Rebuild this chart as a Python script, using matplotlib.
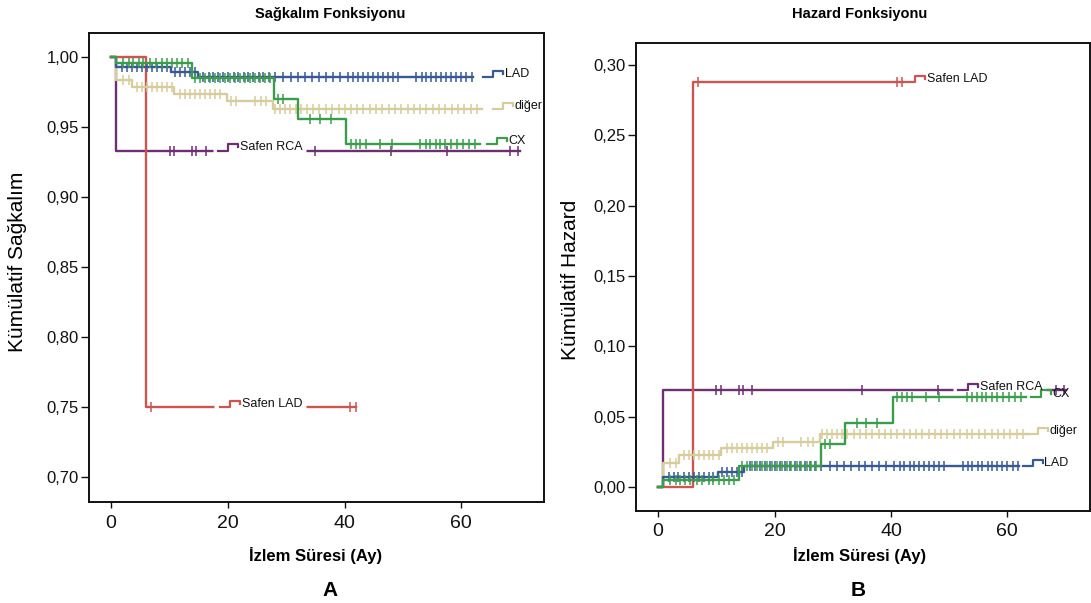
import matplotlib
matplotlib.use("Agg")
import matplotlib.pyplot as plt
import numpy as np
from matplotlib.ticker import FuncFormatter

plt.rcParams['font.family'] = ['Liberation Sans', 'DejaVu Sans']

# ---------------- data ----------------
# Safen LAD
slad_t = [0.0, 6.0]
slad_surv = [1.00, 0.75]
slad_haz = [0.000, 0.288]
slad_end = 42.0
slad_cens = [6.8, 41.0, 41.9]

# Safen RCA
srca_t = [0.0, 0.9]
srca_surv = [1.00, 0.933]
srca_haz = [0.000, 0.069]
srca_end = 70.0
srca_cens = [10.0, 10.8, 13.9, 14.6, 16.2, 35.0, 48.0, 57.5, 68.4, 69.8]

# LAD
lad_t = [0.0, 0.9, 10.3, 14.8]
lad_surv = [1.00, 0.9928, 0.9893, 0.9857]
lad_haz = [0.000, 0.0073, 0.0108, 0.0146]
lad_end = 62.0
lad_cens = [1.8, 2.7, 3.5, 4.4, 5.3, 6.1, 7.0, 7.8, 8.7, 9.5, 11.0, 11.8, 12.7,
            13.5, 14.4, 15.8, 16.7, 17.5, 18.4, 19.2, 20.1, 21.0, 21.8, 22.7,
            23.5, 24.4, 25.3, 26.1, 27.0, 28.0, 29.5, 30.8, 32.0, 33.2, 34.5,
            35.6, 36.8, 38.0, 39.2, 40.6, 41.5, 42.3, 43.2, 44.0, 44.9, 45.7,
            46.6, 47.4, 48.3, 49.2, 52.3, 53.2, 54.0, 54.9, 55.7, 56.6, 57.4,
            58.3, 59.1, 60.0, 60.9, 61.8]

# CX
cx_t = [0.0, 0.9, 13.9, 27.9, 32.1, 40.3]
cx_surv = [1.00, 0.9955, 0.9848, 0.9697, 0.9553, 0.9376]
cx_haz = [0.000, 0.0050, 0.0152, 0.0308, 0.0458, 0.0642]
cx_end = 63.2
cx_cens = [2.1, 3.0, 3.8, 4.7, 5.5, 6.7, 7.6, 8.7, 9.5, 10.4, 11.3, 12.1, 13.1,
           14.4, 15.3, 16.1, 17.0, 17.8, 18.7, 19.5, 20.4, 21.2, 22.1, 22.9,
           23.8, 24.6, 25.5, 26.3, 27.2, 28.6, 29.5, 34.1, 35.8, 37.6, 41.1,
           41.9, 42.7, 43.6, 46.1, 48.2, 53.0, 53.9, 54.7, 55.6, 56.4, 57.3,
           58.3, 59.3, 60.3, 61.3, 62.4]

# diğer
dig_t = [0.0, 0.9, 3.6, 10.8, 19.8, 27.8]
dig_surv = [1.00, 0.9836, 0.9782, 0.9735, 0.9683, 0.9626]
dig_haz = [0.000, 0.0168, 0.0228, 0.0275, 0.0322, 0.0375]
dig_end = 63.5
dig_cens = [2.1, 3.0, 4.4, 5.3, 6.1, 7.0, 7.8, 8.7, 9.5, 10.4, 11.8, 12.7, 13.5,
            14.4, 15.3, 16.1, 17.0, 17.8, 18.7, 20.6, 21.4, 24.6, 25.7, 26.6,
            28.1, 29.0, 29.8, 30.7, 31.6, 32.5, 33.6, 34.6, 35.7, 36.8, 37.9,
            39.0, 40.0, 41.1, 42.2, 43.2, 44.3, 45.4, 46.5, 47.6, 48.6, 49.7,
            50.8, 51.9, 53.0, 54.0, 55.1, 56.2, 57.3, 58.4, 59.5, 60.5, 61.6,
            62.7]

x_ticks = [0, 20, 40, 60]
surv_ticks = [0.70, 0.75, 0.80, 0.85, 0.90, 0.95, 1.00]
haz_ticks = [0.00, 0.05, 0.10, 0.15, 0.20, 0.25, 0.30]

C_SLAD = '#cc5552'
C_SRCA = '#6e2f72'
C_LAD = '#385a94'
C_CX = '#3b9c4c'
C_DIG = '#d6cd9c'

# ---------------- figure ----------------
W, H = 1091, 603
fig = plt.figure(figsize=(W / 100, H / 100), dpi=100)
axL = fig.add_axes([89 / W, (H - 502) / H, 455 / W, 469 / H])
axR = fig.add_axes([636 / W, (H - 511) / H, 454 / W, 468 / H])
renderer = fig.canvas.get_renderer()


def draw_series(ax, t, lev, end, cens, color, z):
    x = list(t) + [end]
    y = list(lev) + [lev[-1]]
    ax.step(x, y, where='post', color=color, lw=1.7, zorder=z)
    idx = np.searchsorted(np.asarray(t), np.asarray(cens), side='right') - 1
    cy = np.asarray(lev)[idx]
    ax.plot(cens, cy, ls='none', marker='|', ms=7, mew=1.1, color=color, zorder=z)


def inline_label(ax, x0, y, txt, color, z, band=False):
    L = 3.4
    h = 0.0045
    t = ax.text(x0 + L + 0.25, y + h * 0.5, txt, fontsize=9, ha='left', va='center',
                color='#111111', zorder=30)
    if band:
        bb = t.get_window_extent(renderer=renderer).transformed(ax.transData.inverted())
        ax.plot([x0 - 1.0, bb.x1 + 0.6], [y, y], color='white', lw=8,
                solid_capstyle='butt', zorder=z + 0.5)
    ax.plot([x0, x0 + L / 2, x0 + L / 2, x0 + L, x0 + L],
            [y, y, y + h, y + h, y + h * 0.5], color=color, lw=1.6, zorder=29)


series = [
    (srca_t, srca_surv, srca_haz, srca_end, srca_cens, C_SRCA, 2),
    (slad_t, slad_surv, slad_haz, slad_end, slad_cens, C_SLAD, 2.5),
    (dig_t, dig_surv, dig_haz, dig_end, dig_cens, C_DIG, 3),
    (lad_t, lad_surv, lad_haz, lad_end, lad_cens, C_LAD, 4),
    (cx_t, cx_surv, cx_haz, cx_end, cx_cens, C_CX, 5),
]

fmt = FuncFormatter(lambda v, p: f"{v:.2f}".replace('.', ','))

for ax in (axL, axR):
    ax.set_xlim(-3.8, 74.2)
    ax.set_xticks(x_ticks)
    for s in ax.spines.values():
        s.set_linewidth(1.4)
        s.set_color('#111111')
    ax.tick_params(axis='y', labelsize=12, length=6, width=1.0, pad=1.5, colors='#111111')
    ax.tick_params(axis='x', labelsize=14, length=4, width=1.0, pad=5, colors='#111111')
    ax.yaxis.set_major_formatter(fmt)

axL.set_ylim(0.682, 1.017)
axL.set_yticks(surv_ticks)
axR.set_ylim(-0.0171, 0.3157)
axR.set_yticks(haz_ticks)

for t, s, hz, e, c, col, z in series:
    draw_series(axL, t, s, e, c, col, z)
    draw_series(axR, t, hz, e, c, col, z)

# inline labels - survival panel
inline_label(axL, 63.8, lad_surv[-1], 'LAD', C_LAD, 4)
inline_label(axL, 65.5, dig_surv[-1], 'diğer', C_DIG, 3)
inline_label(axL, 64.5, cx_surv[-1], 'CX', C_CX, 5)
inline_label(axL, 18.4, srca_surv[-1], 'Safen RCA', C_SRCA, 2, band=True)
inline_label(axL, 18.7, slad_surv[-1], 'Safen LAD', C_SLAD, 2.5, band=True)
# inline labels - hazard panel
inline_label(axR, 42.5, slad_haz[-1], 'Safen LAD', C_SLAD, 2.5)
inline_label(axR, 51.6, srca_haz[-1], 'Safen RCA', C_SRCA, 2, band=True)
inline_label(axR, 64.1, cx_haz[-1], 'CX', C_CX, 5)
inline_label(axR, 63.6, dig_haz[-1], 'diğer', C_DIG, 3)
inline_label(axR, 62.7, lad_haz[-1], 'LAD', C_LAD, 4)

# titles and axis labels
axL.text((330 - 89) / 455, (502 - 14) / 469, 'Sağkalım Fonksiyonu', transform=axL.transAxes,
         ha='center', va='center', fontsize=10.5, fontweight='bold')
axR.text((860 - 636) / 454, (511 - 14) / 468, 'Hazard Fonksiyonu', transform=axR.transAxes,
         ha='center', va='center', fontsize=10.5, fontweight='bold')

axL.set_xlabel('İzlem Süresi (Ay)', fontsize=12, fontweight='bold', va='center')
axL.xaxis.set_label_coords((316 - 89) / 455, (502 - 556) / 469)
axR.set_xlabel('İzlem Süresi (Ay)', fontsize=12, fontweight='bold', va='center')
axR.xaxis.set_label_coords((860 - 636) / 454, (511 - 556) / 468)

axL.set_ylabel('Kümülatif Sağkalım', fontsize=15, va='center')
axL.yaxis.set_label_coords((18 - 89) / 455, (502 - 262) / 469)
axR.set_ylabel('Kümülatif Hazard', fontsize=15, va='center')
axR.yaxis.set_label_coords((570 - 636) / 454, (511 - 280) / 468)

fig.text(330 / W, 1 - 590 / H, 'A', ha='center', va='center', fontsize=15, fontweight='bold')
fig.text(858 / W, 1 - 590 / H, 'B', ha='center', va='center', fontsize=15, fontweight='bold')

fig.savefig('out.png', dpi=100)
